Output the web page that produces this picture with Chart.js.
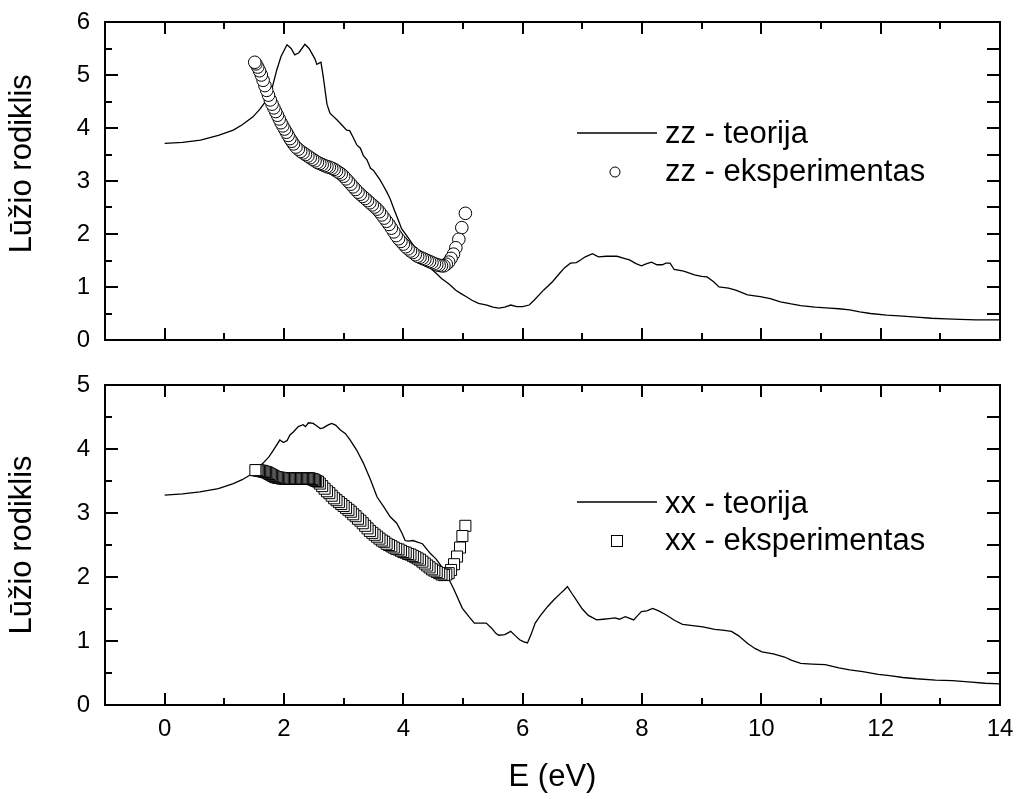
<!DOCTYPE html>
<html>
<head>
<meta charset="utf-8">
<script src="https://cdn.jsdelivr.net/npm/chart.js@4/dist/chart.umd.min.js"></script>
<style>
  body{margin:0;background:#fff;}
  #wrap{position:relative;width:1016px;height:799px;}
  .box{position:absolute;left:0;width:1016px;}
</style>
</head>
<body>
<div id="wrap">
  <div class="box" style="top:0;height:360px"><canvas id="zz" width="1016" height="360"></canvas></div>
  <div class="box" style="top:360px;height:439px"><canvas id="xx" width="1016" height="439"></canvas></div>
</div>
<script>
// ---- ašys ----
const xMajor = [0,2,4,6,8,10,12,14];
const xMinor = [1,3,5,7,9,11,13];
const zzYMajor = [0,1,2,3,4,5,6];
const zzYMinor = [0.5,1.5,2.5,3.5,4.5,5.5];
const xxYMajor = [0,1,2,3,4,5];
const xxYMinor = [0.5,1.5,2.5,3.5,4.5];

// ---- zz teorija ----
const zzTeorE = [
0,0.3,0.6,0.9,1.15,1.3,1.48,1.6,1.71,1.8,
1.88,1.95,2.05,2.12,2.18,2.25,2.35,2.42,2.52,2.55,
2.58,2.62,2.66,2.72,2.77,2.89,2.95,3.05,3.1,3.16,
3.22,3.28,3.33,3.39,3.45,3.5,3.56,3.61,3.67,3.72,
3.78,3.85,3.92,3.97,4.05,4.15,4.3,4.43,4.55,4.64,
4.76,4.88,4.96,5.05,5.15,5.26,5.4,5.5,5.6,5.7,
5.8,5.9,6.0,6.11,6.2,6.35,6.5,6.62,6.7,6.8,
6.9,6.97,7.05,7.17,7.27,7.4,7.58,7.7,7.79,7.9,
7.99,8.08,8.16,8.25,8.34,8.4,8.47,8.54,8.7,8.88,
9.0,9.09,9.2,9.29,9.45,9.57,9.77,9.98,10.15,10.32,
10.5,10.66,10.9,11.14,11.3,11.48,11.65,11.83,12.1,12.37,
12.6,12.85,13.1,13.33,13.6,14.0];
const zzTeorN = [
3.71,3.73,3.77,3.86,3.96,4.06,4.21,4.36,4.53,4.75,
5.10,5.35,5.57,5.50,5.38,5.42,5.58,5.50,5.30,5.20,
5.22,5.24,4.95,4.45,4.28,4.15,4.08,3.96,3.95,3.82,
3.68,3.62,3.48,3.40,3.24,3.20,3.10,3.02,2.90,2.80,
2.66,2.45,2.25,2.10,1.98,1.82,1.58,1.38,1.26,1.16,
1.06,0.94,0.88,0.82,0.75,0.69,0.66,0.62,0.60,0.62,
0.66,0.63,0.63,0.66,0.76,0.94,1.10,1.26,1.36,1.45,
1.46,1.51,1.57,1.63,1.57,1.58,1.58,1.54,1.51,1.44,
1.40,1.44,1.47,1.42,1.42,1.45,1.45,1.33,1.30,1.23,
1.20,1.19,1.10,1.00,0.98,0.94,0.85,0.82,0.78,0.72,
0.68,0.65,0.62,0.60,0.59,0.57,0.53,0.50,0.47,0.45,
0.43,0.41,0.40,0.39,0.38,0.38];

// ---- zz eksperimentas (nuo didesnės E) ----
const zzEkspE = [
5.04,4.98,4.93,4.88,4.84,4.80,4.76,4.72,4.68,4.64,
4.60,4.56,4.52,4.48,4.44,4.40,4.36,4.32,4.28,4.24,
4.20,4.16,4.12,4.08,4.04,4.00,3.96,3.92,3.88,3.84,
3.80,3.76,3.72,3.68,3.64,3.60,3.56,3.52,3.48,3.44,
3.40,3.36,3.32,3.28,3.24,3.20,3.16,3.12,3.08,3.04,
3.00,2.96,2.92,2.88,2.84,2.80,2.76,2.72,2.68,2.64,
2.60,2.56,2.52,2.48,2.44,2.40,2.36,2.32,2.28,2.24,
2.20,2.16,2.13,2.10,2.07,2.04,2.01,1.98,1.95,1.92,
1.89,1.86,1.83,1.80,1.77,1.74,1.71,1.68,1.65,1.62,
1.59,1.56,1.53,1.51];
const zzEkspN = [
2.39,2.12,1.90,1.74,1.62,1.54,1.47,1.43,1.40,1.40,
1.41,1.42,1.44,1.46,1.48,1.50,1.52,1.54,1.56,1.58,
1.61,1.65,1.68,1.72,1.76,1.81,1.86,1.91,1.97,2.04,
2.11,2.18,2.24,2.30,2.36,2.42,2.47,2.51,2.55,2.59,
2.63,2.67,2.71,2.75,2.79,2.84,2.89,2.94,2.99,3.04,
3.09,3.13,3.16,3.19,3.22,3.24,3.26,3.27,3.29,3.31,
3.33,3.35,3.38,3.41,3.44,3.47,3.50,3.53,3.56,3.60,
3.64,3.70,3.75,3.80,3.86,3.92,3.98,4.04,4.10,4.17,
4.24,4.31,4.38,4.45,4.53,4.62,4.71,4.80,4.90,5.00,
5.08,5.15,5.21,5.24];

// ---- xx teorija ----
const xxTeorE = [
0,0.3,0.59,0.9,1.15,1.3,1.48,1.65,1.75,1.82,
1.93,1.99,2.05,2.10,2.16,2.24,2.32,2.36,2.41,2.49,
2.55,2.61,2.66,2.69,2.75,2.80,2.87,2.94,3.03,3.11,
3.22,3.33,3.45,3.56,3.67,3.78,3.89,3.98,4.03,4.08,
4.16,4.25,4.32,4.45,4.55,4.62,4.73,4.85,4.99,5.10,
5.19,5.30,5.39,5.48,5.55,5.60,5.70,5.80,5.88,5.95,
6.01,6.08,6.14,6.21,6.30,6.42,6.52,6.63,6.70,6.75,
6.82,6.90,7.0,7.1,7.24,7.35,7.45,7.55,7.62,7.72,
7.86,7.93,7.99,8.08,8.18,8.28,8.40,8.55,8.68,8.85,
9.02,9.12,9.22,9.35,9.50,9.62,9.77,9.90,10.01,10.2,
10.39,10.5,10.66,10.85,11.07,11.3,11.48,11.7,11.96,12.15,
12.37,12.6,12.92,13.2,13.47,13.75,14.0];
const xxTeorN = [
3.28,3.30,3.33,3.38,3.46,3.52,3.62,3.78,3.88,3.98,
4.14,4.10,4.13,4.22,4.27,4.35,4.38,4.35,4.41,4.40,
4.36,4.32,4.33,4.35,4.38,4.40,4.37,4.30,4.24,4.14,
3.98,3.78,3.52,3.25,3.10,2.94,2.84,2.68,2.57,2.56,
2.57,2.54,2.52,2.37,2.28,2.19,2.03,1.80,1.51,1.38,
1.28,1.28,1.28,1.20,1.12,1.09,1.10,1.15,1.08,1.02,
0.99,0.97,1.10,1.28,1.40,1.54,1.64,1.74,1.80,1.85,
1.75,1.64,1.50,1.40,1.33,1.34,1.35,1.36,1.34,1.38,
1.33,1.40,1.46,1.47,1.51,1.47,1.41,1.32,1.26,1.24,
1.22,1.20,1.18,1.17,1.15,1.08,0.96,0.88,0.83,0.80,
0.75,0.70,0.65,0.64,0.63,0.58,0.55,0.52,0.48,0.46,
0.43,0.41,0.39,0.38,0.36,0.34,0.33];

// ---- xx eksperimentas (nuo didesnės E) ----
const xxEkspE = [
5.04,4.99,4.95,4.90,4.85,4.80,4.76,4.72,4.68,4.64,
4.60,4.56,4.52,4.48,4.44,4.40,4.36,4.32,4.28,4.24,
4.20,4.16,4.12,4.08,4.04,4.00,3.96,3.92,3.88,3.84,
3.80,3.76,3.72,3.68,3.64,3.60,3.56,3.52,3.48,3.44,
3.40,3.36,3.32,3.28,3.24,3.20,3.16,3.12,3.08,3.04,
3.00,2.96,2.92,2.88,2.84,2.80,2.76,2.72,2.68,2.64,
2.60,2.57,2.54,2.52,2.50,2.48,2.46,2.44,2.42,2.40,
2.38,2.36,2.34,2.32,2.30,2.28,2.26,2.24,2.22,2.20,
2.18,2.16,2.14,2.12,2.10,2.08,2.06,2.04,2.02,2.00,
1.98,1.96,1.94,1.92,1.90,1.88,1.86,1.84,1.82,1.80,
1.78,1.76,1.74,1.72,1.70,1.68,1.66,1.64,1.62,1.60,
1.58,1.56,1.54,1.52];
const xxEkspN = [
2.80,2.64,2.46,2.32,2.20,2.11,2.06,2.04,2.03,2.04,
2.06,2.08,2.10,2.12,2.15,2.18,2.21,2.24,2.27,2.29,
2.31,2.33,2.35,2.36,2.38,2.39,2.41,2.43,2.44,2.46,
2.48,2.50,2.52,2.55,2.57,2.60,2.63,2.66,2.69,2.72,
2.76,2.80,2.84,2.88,2.91,2.95,2.98,3.02,3.05,3.08,
3.11,3.14,3.17,3.20,3.23,3.27,3.31,3.34,3.38,3.42,
3.46,3.49,3.50,3.51,3.52,3.53,3.53,3.54,3.54,3.54,
3.54,3.54,3.54,3.54,3.54,3.54,3.54,3.54,3.54,3.54,
3.54,3.54,3.54,3.54,3.54,3.54,3.54,3.54,3.54,3.54,
3.54,3.54,3.55,3.55,3.55,3.56,3.56,3.57,3.58,3.59,
3.60,3.61,3.62,3.63,3.64,3.64,3.65,3.65,3.66,3.66,
3.66,3.67,3.67,3.67];

const FONT = "'Liberation Sans', Arial, sans-serif";
const pts = (xs, ys) => xs.map((x,i)=>({x:x, y:ys[i]}));

// rėmelis ir vidinės padalos
function framePlugin(yMajor, yMinor){
  return {
    id:'frame',
    afterDatasetsDraw(chart){
      const {ctx, chartArea:a, scales} = chart;
      const sx = scales.x, sy = scales.y;
      ctx.save();
      ctx.strokeStyle = '#000';
      ctx.lineWidth = 2;
      ctx.beginPath();
      xMajor.concat(xMinor).forEach(v=>{
        const len = xMajor.includes(v) ? 12 : 7;
        const p = Math.round(sx.getPixelForValue(v));
        ctx.moveTo(p, a.bottom); ctx.lineTo(p, a.bottom-len);
        ctx.moveTo(p, a.top); ctx.lineTo(p, a.top+len);
      });
      yMajor.concat(yMinor).forEach(v=>{
        const len = yMajor.includes(v) ? 13 : 7;
        const p = Math.round(sy.getPixelForValue(v));
        ctx.moveTo(a.left, p); ctx.lineTo(a.left+len, p);
        ctx.moveTo(a.right, p); ctx.lineTo(a.right-13, p);
      });
      ctx.stroke();
      ctx.strokeRect(a.left, a.top, a.right-a.left, a.bottom-a.top);
      ctx.restore();
    }
  };
}

// legenda diagramos viduje
function legendPlugin(rows){
  return {
    id:'legendBox',
    afterDraw(chart){
      const ctx = chart.ctx;
      ctx.save();
      ctx.fillStyle = '#000';
      ctx.strokeStyle = '#000';
      ctx.font = '31px ' + FONT;
      ctx.textBaseline = 'alphabetic';
      rows.forEach(r=>{
        if(r.kind==='line'){
          ctx.lineWidth = 1.3;
          ctx.beginPath(); ctx.moveTo(577, r.my); ctx.lineTo(657, r.my); ctx.stroke();
        } else if(r.kind==='circle'){
          ctx.lineWidth = 1;
          ctx.beginPath(); ctx.arc(615, r.my, 5, 0, Math.PI*2);
          ctx.fillStyle='#fff'; ctx.fill(); ctx.stroke(); ctx.fillStyle='#000';
        } else {
          ctx.lineWidth = 1;
          ctx.fillStyle='#fff'; ctx.fillRect(611.5, r.my-5.5, 11, 11);
          ctx.strokeRect(611.5, r.my-5.5, 11, 11); ctx.fillStyle='#000';
        }
        ctx.fillText(r.label, 665, r.base);
      });
      ctx.restore();
    }
  };
}

function makeChart(id, opt){
  const showX = opt.showX;
  return new Chart(document.getElementById(id), {
    type:'scatter',
    data:{
      datasets:[
        {
          label: opt.expLabel,
          data: opt.exp,
          showLine:false,
          pointStyle: opt.marker,
          pointRadius: opt.marker==='rect' ? 7.8 : 6.3,
          pointBackgroundColor:'#fff',
          pointBorderColor:'#000',
          pointBorderWidth:1,
          order:0
        },
        {
          label: opt.teorLabel,
          data: opt.teor,
          showLine:true,
          borderColor:'#000',
          borderWidth:1.3,
          pointRadius:0,
          tension:0,
          order:1
        }
      ]
    },
    options:{
      responsive:false,
      animation:false,
      devicePixelRatio:1,
      layout:{padding: opt.padding},
      plugins:{legend:{display:false}, tooltip:{enabled:false}},
      scales:{
        x:{
          type:'linear', min:-1, max:14, display: showX,
          afterBuildTicks(s){ s.ticks = xMajor.map(v=>({value:v})); },
          afterFit(s){
            s.paddingLeft = 0; s.paddingRight = 0;
            if(showX) s.height = 94;
          },
          grid:{display:false, drawTicks:false},
          border:{display:false},
          ticks:{font:{family:FONT,size:24}, color:'#000', padding:10, maxRotation:0, autoSkip:false},
          title:{display:true, text:'E (eV)', color:'#000', font:{family:FONT,size:31}, padding:{top:0,bottom:3}}
        },
        y:{
          type:'linear', min:0, max:opt.yMax,
          afterBuildTicks(s){ s.ticks = opt.yMajor.map(v=>({value:v})); },
          afterFit(s){ s.width = 105; s.paddingTop = 0; s.paddingBottom = 0; },
          grid:{display:false, drawTicks:false},
          border:{display:false},
          ticks:{font:{family:FONT,size:24}, color:'#000', padding:15},
          title:{display:true, text:opt.yTitle, color:'#000', font:{family:FONT,size:31}, padding:{top:4,bottom:0}}
        }
      }
    },
    plugins:[framePlugin(opt.yMajor, opt.yMinor), legendPlugin(opt.legend)]
  });
}

makeChart('zz', {
  showX:false, yMax:6, yMajor:zzYMajor, yMinor:zzYMinor,
  padding:{top:22,right:16,bottom:20,left:0},
  yTitle:'    Lūžio rodiklis',
  exp:pts(zzEkspE, zzEkspN), teor:pts(zzTeorE, zzTeorN), marker:'circle',
  expLabel:'zz - eksperimentas', teorLabel:'zz - teorija',
  legend:[
    {kind:'line', my:133, base:143, label:'zz - teorija'},
    {kind:'circle', my:172, base:181, label:'zz - eksperimentas'}
  ]
});

makeChart('xx', {
  showX:true, yMax:5, yMajor:xxYMajor, yMinor:xxYMinor,
  padding:{top:25,right:16,bottom:0,left:0},
  yTitle:'Lūžio rodiklis',
  exp:pts(xxEkspE, xxEkspN), teor:pts(xxTeorE, xxTeorN), marker:'rect',
  expLabel:'xx - eksperimentas', teorLabel:'xx - teorija',
  legend:[
    {kind:'line', my:142, base:153, label:'xx - teorija'},
    {kind:'rect', my:181, base:190, label:'xx - eksperimentas'}
  ]
});
</script>
</body>
</html>
